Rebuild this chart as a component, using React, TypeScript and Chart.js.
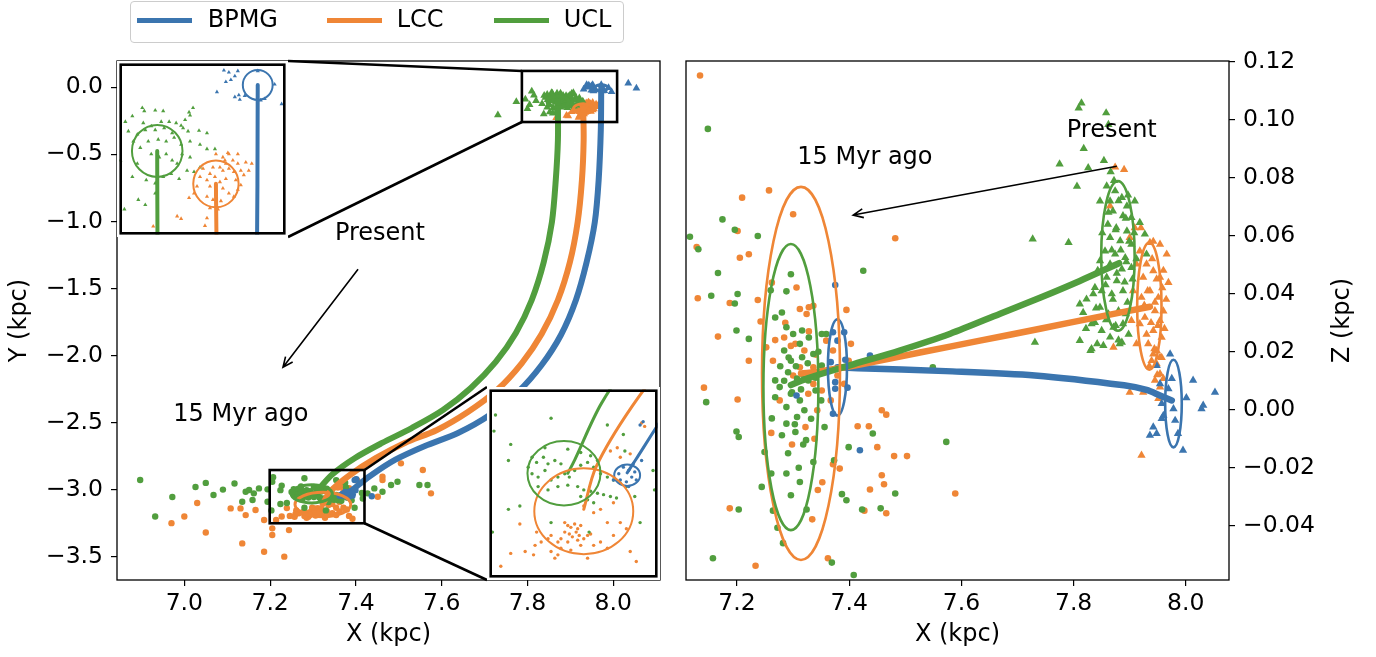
import React, { useEffect, useRef } from "react";
import { Chart, registerables } from "chart.js";

Chart.register(...registerables);

type P = [number, number];
type Ell = [number, number, number, number]; // centre x, centre y, half-width, half-height (data units)

const FONT = "'DejaVu Sans', 'Liberation Sans', Arial, sans-serif";
const groupNames = ["BPMG", "LCC", "UCL"];
const groupColors = ["#3b75af", "#ef8636", "#519e3e"];

// ---------------- axes ----------------
const xyXRange: P = [6.843, 8.109];
const xyYRange: P = [-3.674, 0.196];
const xyXTicks = [7.0, 7.2, 7.4, 7.6, 7.8, 8.0];
const xyYTicks = [0.0, -0.5, -1.0, -1.5, -2.0, -2.5, -3.0, -3.5];
const xzXRange: P = [7.109, 8.077];
const xzZRange: P = [-0.0587, 0.1202];
const xzXTicks = [7.2, 7.4, 7.6, 7.8, 8.0];
const xzZTicks = [-0.04, -0.02, 0.0, 0.02, 0.04, 0.06, 0.08, 0.1, 0.12];

const inset1XRange: P = [7.833, 8.0];
const inset1YRange: P = [-0.24, 0.03];
const inset2XRange: P = [7.199, 7.42];
const inset2YRange: P = [-3.251, -2.854];
const zoomBox1 = [7.787, 8.009, -0.259, 0.122];
const zoomBox2 = [7.199, 7.42, -3.251, -2.854];

// ---------------- X–Y panel: present (triangles) ----------------
const bpmgNowXY: P[] = [
  [7.938, 0.019], [7.943, 0.016], [7.952, 0.018], [7.949, 0.01], [7.945, 0.004], [7.94, 0.001],
  [7.931, -0.015], [7.949, -0.023], [7.953, -0.02], [7.954, -0.027], [7.959, -0.021], [7.975, -0.028],
  [7.979, -0.026], [7.989, -0.003], [7.996, -0.034], [7.972, 0.018], [8.035, 0.03], [8.054, -0.007],
];
const lccNowXY: P[] = [
  [7.93, -0.113], [7.937, -0.118], [7.942, -0.111], [7.947, -0.123], [7.952, -0.128], [7.955, -0.139],
  [7.96, -0.126], [7.966, -0.128], [7.94, -0.128], [7.943, -0.136], [7.948, -0.141], [7.937, -0.139],
  [7.927, -0.134], [7.924, -0.144], [7.917, -0.136], [7.914, -0.149], [7.921, -0.154], [7.929, -0.149],
  [7.934, -0.157], [7.94, -0.152], [7.95, -0.154], [7.955, -0.162], [7.924, -0.164], [7.93, -0.169],
  [7.937, -0.167], [7.943, -0.175], [7.948, -0.18], [7.952, -0.169], [7.911, -0.164], [7.908, -0.175],
  [7.903, -0.182], [7.921, -0.18], [7.927, -0.185], [7.935, -0.187], [7.924, -0.198], [7.932, -0.2],
  [7.891, -0.211], [7.895, -0.215], [7.921, -0.214], [7.919, -0.226], [7.867, -0.227], [7.963, -0.139],
  [7.958, -0.146], [7.952, -0.113], [7.939, -0.123], [7.943, -0.113], [7.934, -0.134],
];
const uclNowXY: P[] = [
  [7.856, -0.04], [7.858, -0.045], [7.869, -0.044], [7.877, -0.045], [7.846, -0.053], [7.839, -0.062],
  [7.857, -0.064], [7.865, -0.069], [7.875, -0.062], [7.883, -0.062], [7.89, -0.064], [7.895, -0.068],
  [7.899, -0.059], [7.904, -0.052], [7.907, -0.04], [7.903, -0.047], [7.897, -0.072], [7.902, -0.077],
  [7.913, -0.076], [7.921, -0.08], [7.842, -0.077], [7.851, -0.082], [7.859, -0.075], [7.869, -0.075],
  [7.878, -0.072], [7.886, -0.08], [7.847, -0.093], [7.854, -0.103], [7.862, -0.093], [7.872, -0.09],
  [7.88, -0.093], [7.888, -0.087], [7.895, -0.098], [7.904, -0.093], [7.914, -0.098], [7.921, -0.105],
  [7.929, -0.105], [7.865, -0.113], [7.873, -0.118], [7.88, -0.113], [7.886, -0.123], [7.891, -0.128],
  [7.896, -0.113], [7.901, -0.139], [7.908, -0.141], [7.914, -0.134], [7.86, -0.154], [7.869, -0.159],
  [7.877, -0.149], [7.885, -0.144], [7.893, -0.152], [7.869, -0.175], [7.852, -0.185], [7.859, -0.193],
  [7.838, -0.2], [7.834, -0.123], [7.851, -0.128], [7.846, -0.149], [7.904, -0.118],
  [7.731, -0.207], [7.774, -0.107], [7.795, -0.09], [7.805, -0.13], [7.815, -0.06], [7.82, -0.1],
  [7.8, -0.16], [7.81, -0.03],
];

// ---------------- X–Y panel: 15 Myr ago (dots) ----------------
const bpmgPastXY: P[] = [
  [7.375, -3.018], [7.382, -3.025], [7.386, -3.039], [7.371, -3.045], [7.379, -3.049], [7.39, -3.028],
  [7.369, -3.032], [7.388, -3.011], [7.392, -3.045], [7.399, -3.004], [7.397, -2.929], [7.401, -2.922],
  [7.382, -3.059], [7.362, -3.045], [7.437, -3.05],
];
const lccPastXY: P[] = [
  [7.298, -3.135], [7.302, -3.141], [7.306, -3.145], [7.311, -3.138], [7.315, -3.148], [7.319, -3.141],
  [7.313, -3.155], [7.304, -3.159], [7.308, -3.165], [7.317, -3.162], [7.298, -3.155], [7.293, -3.169],
  [7.289, -3.176], [7.302, -3.176], [7.315, -3.172], [7.323, -3.169], [7.328, -3.162], [7.332, -3.159],
  [7.28, -3.162], [7.276, -3.169], [7.267, -3.176], [7.261, -3.155], [7.259, -3.183], [7.293, -3.189],
  [7.306, -3.193], [7.319, -3.183], [7.336, -3.183], [7.345, -3.176], [7.354, -3.135], [7.371, -3.135],
  [7.379, -3.148], [7.362, -3.162], [7.239, -3.138], [7.227, -3.2], [7.246, -3.196], [7.257, -3.203],
  [7.285, -3.21], [7.328, -3.21], [7.384, -3.196], [7.392, -3.217], [7.214, -3.227], [7.354, -3.189],
  [7.358, -2.984], [7.367, -2.977], [7.371, -2.997], [7.384, -2.99], [7.399, -2.925], [7.403, -2.932],
  [7.362, -3.093], [7.345, -3.107], [7.336, -3.114], [7.323, -3.1], [7.289, -3.203], [7.28, -3.196],
  [7.108, -3.14], [7.131, -3.14], [7.143, -3.19], [7.166, -3.152], [7.186, -3.227], [7.205, -3.289],
  [7.205, -3.339], [7.244, -3.302], [7.135, -3.401], [7.186, -3.463], [7.233, -3.5], [7.462, -2.904],
  [7.462, -2.929], [7.505, -2.804], [7.556, -2.854], [7.575, -3.028], [7.451, -3.053], [6.97, -3.25],
  [7.03, -3.1], [7.05, -3.32], [7.0, -3.2],
];
const uclPastXY: P[] = [
  [7.207, -2.908], [7.205, -2.942], [7.227, -2.97], [7.224, -3.004], [7.28, -2.915], [7.255, -2.997],
  [7.25, -3.018], [7.261, -3.008], [7.27, -2.997], [7.276, -3.011], [7.285, -3.004], [7.293, -3.011],
  [7.255, -3.032], [7.263, -3.039], [7.272, -3.025], [7.28, -3.045], [7.289, -3.039], [7.298, -3.032],
  [7.304, -3.039], [7.311, -3.025], [7.319, -3.014], [7.328, -3.008], [7.336, -3.018], [7.345, -3.032],
  [7.354, -3.039], [7.362, -3.045], [7.371, -3.052], [7.379, -3.059], [7.263, -3.059], [7.276, -3.066],
  [7.289, -3.059], [7.302, -3.056], [7.315, -3.059], [7.323, -3.066], [7.332, -3.069], [7.341, -3.073],
  [7.349, -3.076], [7.358, -3.08], [7.366, -3.083], [7.319, -3.08], [7.328, -3.087], [7.336, -3.093],
  [7.302, -2.98], [7.319, -2.987], [7.332, -2.994], [7.341, -3.004], [7.272, -2.977], [7.239, -3.1],
  [7.224, -3.107], [7.28, -3.135], [7.397, -3.135], [7.39, -3.08], [7.414, -3.025], [7.377, -2.984],
  [7.354, -2.929], [7.375, -2.949], [7.416, -3.066], [7.203, -3.155], [7.33, -3.155],
  [7.117, -2.954], [7.143, -3.016], [7.151, -3.003], [7.162, -3.028], [7.174, -2.991], [7.135, -3.09],
  [7.159, -3.078], [7.194, -2.998], [7.194, -3.09], [7.427, -3.028], [7.443, -2.991], [7.462, -3.016],
  [7.482, -2.966], [7.497, -2.941], [7.548, -2.966], [7.567, -2.966], [6.897, -2.928], [6.932, -3.2],
  [6.972, -3.055], [7.026, -2.98], [7.068, -3.04], [7.05, -2.95], [7.09, -3.0],
];

// ---------------- X–Y panel: mean orbits ----------------
const bpmgTrackXY: P[] = [
  [7.972, -0.004], [7.971, -0.318], [7.966, -0.691], [7.957, -1.005], [7.938, -1.303], [7.913, -1.586],
  [7.878, -1.847], [7.833, -2.071], [7.778, -2.272], [7.712, -2.444], [7.638, -2.578], [7.561, -2.675],
  [7.491, -2.779], [7.433, -2.899], [7.391, -3.003], [7.38, -3.03],
];
const lccTrackXY: P[] = [
  [7.93, -0.16], [7.931, -0.393], [7.927, -0.691], [7.917, -1.005], [7.899, -1.303], [7.871, -1.586],
  [7.833, -1.84], [7.787, -2.056], [7.729, -2.257], [7.661, -2.421], [7.589, -2.555], [7.514, -2.652],
  [7.447, -2.764], [7.386, -2.891], [7.339, -3.018], [7.323, -3.107],
];
const uclTrackXY: P[] = [
  [7.871, -0.108], [7.871, -0.393], [7.866, -0.691], [7.857, -1.005], [7.838, -1.303], [7.81, -1.586],
  [7.773, -1.832], [7.726, -2.048], [7.668, -2.242], [7.603, -2.406], [7.53, -2.541], [7.461, -2.652],
  [7.398, -2.764], [7.346, -2.884], [7.311, -3.003], [7.302, -3.031],
];

// ---------------- X–Y panel: dispersion ellipses ----------------
const bpmgEllXY: Ell[] = [[7.972, -0.004, 0.015, 0.0236], [7.38, -3.035, 0.017, 0.0226]];
const lccEllXY: Ell[] = [[7.93, -0.16, 0.0228, 0.0369], [7.323, -3.111, 0.065, 0.0905]];
const uclEllXY: Ell[] = [[7.871, -0.108, 0.0254, 0.041], [7.297, -3.031, 0.048, 0.068]];

// ---------------- X–Z panel: present (triangles) ----------------
const bpmgNowXZ: P[] = [
  [7.972, 0.0192], [7.948, 0.0152], [7.975, 0.0107], [7.954, 0.0089], [8.013, 0.0101], [7.969, 0.0072],
  [8.001, 0.0041], [8.052, 0.006], [7.957, 0.0021], [7.978, 0.0003], [8.031, 0.0015], [8.028, 0.0003],
  [7.96, -0.002], [7.981, -0.0037], [7.942, -0.006], [7.957, -0.0031], [7.936, -0.0088], [7.948, -0.0082],
  [7.986, -0.0082], [7.995, -0.014],
];
const lccNowXZ: P[] = [
  [7.874, 0.0836], [7.89, 0.0828], [7.865, 0.0702], [7.909, 0.0627], [7.92, 0.0627], [7.936, 0.0576],
  [7.954, 0.057], [7.966, 0.0536], [7.969, 0.0438], [7.93, 0.0502], [7.942, 0.0479], [7.954, 0.0456],
  [7.924, 0.0456], [7.936, 0.041], [7.951, 0.0387], [7.921, 0.0387], [7.945, 0.0341], [7.954, 0.0307],
  [7.927, 0.0318], [7.918, 0.0296], [7.942, 0.0273], [7.957, 0.0249], [7.933, 0.0227], [7.948, 0.0204],
  [7.912, 0.0227], [7.871, 0.0215], [7.903, 0.0307], [7.906, 0.041], [7.912, 0.0502], [7.918, 0.0547],
  [7.9, 0.0593], [7.939, 0.0169], [7.954, 0.0181], [7.942, 0.0192], [7.948, 0.0158], [7.954, 0.0124],
  [7.945, 0.0101], [7.96, 0.0107], [7.954, 0.0078], [7.951, 0.0038], [7.9, 0.006], [7.924, 0.006],
  [7.921, -0.0157], [7.94, 0.052], [7.948, 0.045], [7.958, 0.042], [7.932, 0.041], [7.945, 0.037],
  [7.96, 0.034], [7.938, 0.03], [7.95, 0.029], [7.93, 0.026], [7.944, 0.021], [7.957, 0.018],
  [7.935, 0.015], [7.949, 0.012], [7.962, 0.028], [7.965, 0.038], [7.926, 0.036], [7.942, 0.058],
  [7.96, 0.048],
];
const uclNowXZ: P[] = [
  [7.809, 0.104], [7.814, 0.1057], [7.858, 0.1023], [7.862, 0.0983], [7.818, 0.09], [7.775, 0.0847],
  [7.854, 0.0859], [7.826, 0.0834], [7.806, 0.077], [7.727, 0.0588], [7.791, 0.0576], [7.859, 0.0771],
  [7.874, 0.0754], [7.886, 0.0731], [7.865, 0.0719], [7.847, 0.0719], [7.895, 0.0702], [7.909, 0.0719],
  [7.87, 0.0685], [7.888, 0.0668], [7.903, 0.0662], [7.918, 0.0645], [7.861, 0.0639], [7.876, 0.0627],
  [7.895, 0.0616], [7.927, 0.0605], [7.865, 0.0593], [7.883, 0.0582], [7.903, 0.057], [7.856, 0.0547],
  [7.874, 0.0536], [7.892, 0.0524], [7.93, 0.0536], [7.847, 0.0513], [7.865, 0.0502], [7.886, 0.0485],
  [7.903, 0.049], [7.859, 0.0456], [7.877, 0.0444], [7.838, 0.0421], [7.823, 0.0381], [7.811, 0.0364],
  [7.835, 0.0399], [7.85, 0.041], [7.868, 0.0399], [7.888, 0.041], [7.847, 0.0353], [7.862, 0.033],
  [7.88, 0.0341], [7.817, 0.0335], [7.832, 0.0296], [7.85, 0.0273], [7.871, 0.0284], [7.888, 0.0296],
  [7.811, 0.0238], [7.832, 0.021], [7.853, 0.0221], [7.886, 0.0232], [7.731, 0.0232], [7.83, 0.0204],
  [7.842, 0.0227], [7.882, 0.0227], [7.872, 0.079], [7.88, 0.072], [7.893, 0.066], [7.875, 0.062],
  [7.899, 0.058], [7.884, 0.055], [7.868, 0.055], [7.894, 0.051], [7.877, 0.047], [7.891, 0.044],
  [7.857, 0.043], [7.87, 0.038], [7.896, 0.037], [7.858, 0.031], [7.875, 0.029], [7.893, 0.033],
  [7.84, 0.035], [7.865, 0.025], [7.88, 0.024], [7.898, 0.026], [7.905, 0.045], [7.912, 0.052],
  [7.862, 0.068], [7.851, 0.061], [7.843, 0.048], [7.838, 0.03], [7.822, 0.028], [7.908, 0.061],
  [7.897, 0.074], [7.866, 0.082],
];

// ---------------- X–Z panel: 15 Myr ago (dots) ----------------
const bpmgPastXZ: P[] = [
  [7.371, 0.0267], [7.391, 0.0267], [7.379, 0.0238], [7.367, 0.0164], [7.393, 0.0172], [7.375, 0.0095],
  [7.397, 0.0076], [7.371, -0.0014], [7.419, -0.014], [7.437, 0.0187], [7.306, 0.0049], [7.375, 0.0072],
  [7.375, 0.043],
];
const lccPastXZ: P[] = [
  [7.134, 0.1152], [7.257, 0.0756], [7.209, 0.0731], [7.201, 0.0616], [7.128, 0.0561], [7.221, 0.0536],
  [7.205, 0.0524], [7.3, 0.0674], [7.482, 0.0591], [7.13, 0.0384], [7.187, 0.0368], [7.237, 0.0378],
  [7.306, 0.0421], [7.328, 0.0353], [7.262, 0.0438], [7.166, 0.0252], [7.395, 0.0344], [7.221, 0.0169],
  [7.141, 0.0076], [7.201, 0.0035], [7.261, -0.008], [7.344, -0.0277], [7.187, -0.034], [7.233, -0.0538],
  [7.362, -0.0512], [7.334, -0.0378], [7.371, -0.0188], [7.383, -0.0203], [7.415, -0.0057], [7.435, -0.0057],
  [7.45, -0.0129], [7.48, -0.016], [7.503, -0.016], [7.462, -0.0257], [7.458, -0.0226], [7.437, -0.0275],
  [7.466, -0.0357], [7.427, -0.0348], [7.589, -0.0289], [7.458, -0.0002], [7.466, -0.0017], [7.403, 0.0227],
  [7.242, 0.0304], [7.252, 0.0215], [7.264, 0.0169], [7.284, 0.0249], [7.304, 0.0227], [7.32, 0.0204],
  [7.336, 0.0146], [7.312, 0.0146], [7.3, 0.0118], [7.336, 0.0089], [7.351, 0.0066], [7.367, 0.0032],
  [7.379, 0.0118], [7.391, 0.0089], [7.399, 0.0169], [7.371, 0.0204], [7.359, 0.0238], [7.276, 0.0032],
  [7.327, 0.0055], [7.343, -0.0002], [7.312, 0.0347], [7.324, 0.033], [7.336, 0.0358], [7.286, 0.03],
  [7.296, 0.022], [7.328, 0.027], [7.34, 0.019], [7.355, 0.013], [7.322, -0.006], [7.338, -0.01],
  [7.298, -0.012], [7.352, -0.025], [7.268, 0.024],
];
const uclPastXZ: P[] = [
  [7.148, 0.0968], [7.174, 0.0656], [7.196, 0.062], [7.116, 0.0596], [7.131, 0.0553], [7.237, 0.0599],
  [7.425, 0.0479], [7.166, 0.0471], [7.154, 0.0393], [7.201, 0.0399], [7.196, 0.0366], [7.296, 0.0467],
  [7.288, 0.0408], [7.26, 0.0412], [7.359, 0.0261], [7.199, 0.0273], [7.145, 0.0026], [7.199, -0.0075],
  [7.203, -0.0094], [7.249, -0.0146], [7.261, -0.022], [7.288, -0.022], [7.244, -0.0266], [7.312, -0.0249],
  [7.296, -0.0295], [7.203, -0.0344], [7.264, -0.0348], [7.324, -0.0344], [7.272, -0.0407], [7.282, -0.046],
  [7.157, -0.0512], [7.369, -0.0527], [7.408, -0.057], [7.387, -0.0291], [7.395, -0.0312], [7.373, -0.0174],
  [7.399, -0.0129], [7.442, -0.0082], [7.482, -0.0289], [7.456, -0.034], [7.423, -0.0344], [7.573, -0.0111],
  [7.549, 0.0146], [7.221, 0.0244], [7.268, 0.0318], [7.28, 0.0335], [7.288, 0.0284], [7.3, 0.0261],
  [7.316, 0.0273], [7.328, 0.0249], [7.312, 0.0227], [7.284, 0.0204], [7.296, 0.0169], [7.316, 0.0181],
  [7.336, 0.0192], [7.351, 0.0152], [7.291, 0.0129], [7.307, 0.0107], [7.327, 0.0101], [7.34, 0.0066],
  [7.296, 0.0055], [7.312, 0.0032], [7.288, 0.0009], [7.32, -0.0002], [7.332, -0.0031], [7.307, -0.0025],
  [7.288, -0.0048], [7.304, -0.0077], [7.323, -0.0105], [7.28, -0.0088], [7.356, -0.006], [7.35, 0.0032],
  [7.268, 0.0043], [7.276, 0.0078], [7.268, 0.0101], [7.351, 0.0261], [7.292, 0.018], [7.305, 0.015],
  [7.318, 0.012], [7.284, 0.01], [7.298, 0.006], [7.314, 0.007], [7.326, 0.016], [7.34, 0.011],
  [7.277, 0.015], [7.303, -0.005], [7.318, -0.012], [7.291, -0.015], [7.336, -0.018], [7.31, -0.02],
  [7.262, -0.003], [7.345, 0.02],
];

// ---------------- X–Z panel: mean orbits ----------------
const bpmgTrackXZ: P[] = [
  [7.975, 0.0032], [7.954, 0.0049], [7.93, 0.0068], [7.89, 0.0084], [7.731, 0.0118], [7.572, 0.0133],
  [7.415, 0.0143], [7.379, 0.0146],
];
const lccTrackXZ: P[] = [
  [7.936, 0.0355], [7.847, 0.0321], [7.74, 0.0279], [7.633, 0.0238], [7.526, 0.0197], [7.419, 0.0156],
  [7.348, 0.0132], [7.314, 0.0125],
];
const uclTrackXZ: P[] = [
  [7.881, 0.0505], [7.811, 0.0444], [7.74, 0.0386], [7.669, 0.0331], [7.58, 0.0262], [7.49, 0.0204],
  [7.401, 0.0153], [7.33, 0.0111], [7.296, 0.0085],
];

// ---------------- X–Z panel: dispersion ellipses ----------------
const bpmgEllXZ: Ell[] = [[7.978, 0.0021, 0.0148, 0.0151], [7.379, 0.0146, 0.017, 0.0166]];
const lccEllXZ: Ell[] = [[7.935, 0.0357, 0.0217, 0.0219], [7.314, 0.0125, 0.0695, 0.0643]];
const uclEllXZ: Ell[] = [[7.879, 0.053, 0.0298, 0.0258], [7.296, 0.0078, 0.049, 0.0493]];

// ---------------- annotations ----------------
const xyLabels: { at: P; text: string }[] = [
  { at: [7.456, -1.094], text: "Present" },
  { at: [7.132, -2.444], text: "15 Myr ago" },
];
const xyArrow: { from: P; to: P } = { from: [7.405, -1.357], to: [7.23, -2.088] };
const xzLabels: { at: P; text: string }[] = [
  { at: [7.868, 0.096], text: "Present" },
  { at: [7.428, 0.0867], text: "15 Myr ago" },
];
const xzArrow: { from: P; to: P } = { from: [7.877, 0.0839], to: [7.407, 0.0671] };

// ---------------- layout (pixels) ----------------
const W = 1376;
const H = 657;
const PLOT_TOP = 61;
const PLOT_BOTTOM = 580;
const INSET1 = { left: 117, top: 61, width: 171, height: 176 };
const INSET2 = { left: 487, top: 387, width: 173, height: 193 };

const fmt = (v: number, d: number) => {
  const s = Math.abs(v) < 1e-9 ? (0).toFixed(d) : v.toFixed(d);
  return s.replace("-", "\u2212");
};

const font = (size: number) => ({ family: FONT, size });

function axis(horiz: boolean, range: P, ticks: number[], dec: number, title: string | null, size: number, position?: string) {
  return {
    type: "linear",
    position: position ?? (horiz ? "bottom" : "left"),
    min: range[0],
    max: range[1],
    afterBuildTicks: (s: any) => {
      s.ticks = ticks.map((v) => ({ value: v }));
    },
    afterFit: (s: any) => {
      if (horiz) s.height = size;
      else s.width = size;
    },
    ticks: {
      callback: (v: any) => fmt(Number(v), dec),
      font: font(23.5),
      color: "#000",
      padding: horiz ? 4 : 8,
      autoSkip: false,
      maxRotation: 0,
      minRotation: 0,
    },
    grid: { drawOnChartArea: false, drawTicks: true, tickLength: 6, color: "#000", lineWidth: 1.2 },
    border: { display: false },
    title: title
      ? {
          display: true,
          text: title,
          font: font(24),
          color: "#000",
          padding: horiz ? { top: 0, bottom: 8 } : { top: 5, bottom: 0 },
        }
      : { display: false },
  };
}

const pts = (d: P[]) => d.map(([x, y]) => ({ x, y }));

function buildDatasets(tracks: P[][], now: P[][], past: P[][], st: { tri: number; dot: number; line: number }) {
  const ds: any[] = [];
  const lineOrder = [2, 1, 0];
  tracks.forEach((t, i) =>
    ds.push({
      data: pts(t),
      showLine: true,
      borderColor: groupColors[i],
      borderWidth: st.line,
      pointRadius: 0,
      pointHoverRadius: 0,
      tension: 0.3,
      fill: false,
      borderCapStyle: "round",
      borderJoinStyle: "round",
      order: lineOrder[i],
    })
  );
  const ptOrder = [10, 12, 11];
  now.forEach((d, i) =>
    ds.push({
      data: pts(d),
      showLine: false,
      pointStyle: "triangle",
      pointRadius: st.tri,
      pointHoverRadius: st.tri,
      pointBackgroundColor: groupColors[i],
      backgroundColor: groupColors[i],
      pointBorderWidth: 0,
      borderWidth: 0,
      order: ptOrder[i],
    })
  );
  past.forEach((d, i) =>
    ds.push({
      data: pts(d),
      showLine: false,
      pointStyle: "circle",
      pointRadius: st.dot,
      pointHoverRadius: st.dot,
      pointBackgroundColor: groupColors[i],
      backgroundColor: groupColors[i],
      pointBorderWidth: 0,
      borderWidth: 0,
      order: ptOrder[i] + 10,
    })
  );
  return ds;
}

interface OverlaySpec {
  frameWidth: number;
  frameInside?: boolean;
  ellipses: { items: Ell[]; color: string; width: number }[];
  labels?: { at: P; text: string }[];
  arrows?: { from: P; to: P }[];
  boxes?: { box: number[]; links: { corner: [number, number]; to: [number, number] }[] }[];
  rotatedTitle?: { text: string; dx: number };
}

function overlayPlugin(o: OverlaySpec) {
  return {
    id: "overlay",
    afterDatasetsDraw(chart: any) {
      const { ctx, chartArea: ca, scales } = chart;
      const xs = scales.x;
      const ys = scales.y;
      ctx.save();
      ctx.beginPath();
      ctx.rect(ca.left, ca.top, ca.right - ca.left, ca.bottom - ca.top);
      ctx.clip();
      for (const g of o.ellipses) {
        ctx.strokeStyle = g.color;
        ctx.lineWidth = g.width;
        for (const [cx, cy, rx, ry] of g.items) {
          const px = xs.getPixelForValue(cx);
          const py = ys.getPixelForValue(cy);
          const prx = Math.abs(xs.getPixelForValue(cx + rx) - px);
          const pry = Math.abs(ys.getPixelForValue(cy + ry) - py);
          ctx.beginPath();
          ctx.ellipse(px, py, prx, pry, 0, 0, Math.PI * 2);
          ctx.stroke();
        }
      }
      ctx.fillStyle = "#000";
      ctx.font = `24px ${FONT}`;
      ctx.textAlign = "center";
      ctx.textBaseline = "middle";
      for (const l of o.labels ?? []) {
        ctx.fillText(l.text, xs.getPixelForValue(l.at[0]), ys.getPixelForValue(l.at[1]));
      }
      ctx.strokeStyle = "#000";
      ctx.lineWidth = 1.6;
      for (const a of o.arrows ?? []) {
        const x1 = xs.getPixelForValue(a.from[0]);
        const y1 = ys.getPixelForValue(a.from[1]);
        const x2 = xs.getPixelForValue(a.to[0]);
        const y2 = ys.getPixelForValue(a.to[1]);
        const ang = Math.atan2(y2 - y1, x2 - x1);
        const hl = 11;
        const ha = 0.42;
        ctx.beginPath();
        ctx.moveTo(x1, y1);
        ctx.lineTo(x2, y2);
        ctx.moveTo(x2 - hl * Math.cos(ang - ha), y2 - hl * Math.sin(ang - ha));
        ctx.lineTo(x2, y2);
        ctx.lineTo(x2 - hl * Math.cos(ang + ha), y2 - hl * Math.sin(ang + ha));
        ctx.stroke();
      }
      ctx.restore();

      ctx.save();
      ctx.strokeStyle = "#000";
      ctx.lineWidth = 2.6;
      for (const b of o.boxes ?? []) {
        const [x0, x1, y0, y1] = b.box;
        const L = xs.getPixelForValue(x0);
        const R = xs.getPixelForValue(x1);
        const T = ys.getPixelForValue(y1);
        const B = ys.getPixelForValue(y0);
        ctx.strokeRect(L, T, R - L, B - T);
        for (const k of b.links) {
          ctx.beginPath();
          ctx.moveTo(xs.getPixelForValue(k.corner[0]), ys.getPixelForValue(k.corner[1]));
          ctx.lineTo(k.to[0], k.to[1]);
          ctx.stroke();
        }
      }
      ctx.restore();

      ctx.save();
      ctx.strokeStyle = "#000";
      ctx.lineWidth = o.frameWidth;
      const h = o.frameInside ? o.frameWidth / 2 : 0;
      ctx.strokeRect(ca.left + h, ca.top + h, ca.right - ca.left - 2 * h, ca.bottom - ca.top - 2 * h);
      ctx.restore();

      if (o.rotatedTitle) {
        ctx.save();
        ctx.fillStyle = "#000";
        ctx.font = `24px ${FONT}`;
        ctx.textAlign = "center";
        ctx.textBaseline = "middle";
        ctx.translate(ca.right + o.rotatedTitle.dx, (ca.top + ca.bottom) / 2);
        ctx.rotate(-Math.PI / 2);
        ctx.fillText(o.rotatedTitle.text, 0, 0);
        ctx.restore();
      }
    },
  };
}

const baseOptions = (padding: any, scales: any) => ({
  animation: false,
  responsive: false,
  devicePixelRatio: 1,
  events: [],
  layout: { padding },
  plugins: { legend: { display: false }, tooltip: { enabled: false } },
  scales,
});

function leftConfig(): any {
  return {
    type: "scatter",
    data: {
      datasets: buildDatasets(
        [bpmgTrackXY, lccTrackXY, uclTrackXY],
        [bpmgNowXY, lccNowXY, uclNowXY],
        [bpmgPastXY, lccPastXY, uclPastXY],
        { tri: 4.5, dot: 3.2, line: 6 }
      ),
    },
    options: baseOptions(
      { left: 0, right: 20, top: PLOT_TOP, bottom: 0 },
      {
        x: axis(true, xyXRange, xyXTicks, 1, "X (kpc)", H - PLOT_BOTTOM),
        y: axis(false, xyYRange, xyYTicks, 1, "Y (kpc)", 117),
      }
    ),
    plugins: [
      overlayPlugin({
        frameWidth: 1.3,
        ellipses: [
          { items: bpmgEllXY, color: groupColors[0], width: 3 },
          { items: lccEllXY, color: groupColors[1], width: 3 },
          { items: uclEllXY, color: groupColors[2], width: 3 },
        ],
        labels: xyLabels,
        arrows: [xyArrow],
        boxes: [
          {
            box: zoomBox1,
            links: [
              { corner: [zoomBox1[0], zoomBox1[3]], to: [INSET1.left + INSET1.width, INSET1.top] },
              { corner: [zoomBox1[0], zoomBox1[2]], to: [INSET1.left + INSET1.width, INSET1.top + INSET1.height] },
            ],
          },
          {
            box: zoomBox2,
            links: [
              { corner: [zoomBox2[1], zoomBox2[3]], to: [INSET2.left, INSET2.top] },
              { corner: [zoomBox2[1], zoomBox2[2]], to: [INSET2.left, INSET2.top + INSET2.height] },
            ],
          },
        ],
      }),
    ],
  };
}

function insetConfig(xr: P, yr: P, st: { tri: number; dot: number; line: number }, ellW: number): any {
  return {
    type: "scatter",
    data: {
      datasets: buildDatasets(
        [bpmgTrackXY, lccTrackXY, uclTrackXY],
        [bpmgNowXY, lccNowXY, uclNowXY],
        [bpmgPastXY, lccPastXY, uclPastXY],
        st
      ),
    },
    options: baseOptions(0, {
      x: { type: "linear", display: false, min: xr[0], max: xr[1] },
      y: { type: "linear", display: false, min: yr[0], max: yr[1] },
    }),
    plugins: [
      overlayPlugin({
        frameWidth: 2.6,
        frameInside: true,
        ellipses: [
          { items: bpmgEllXY, color: groupColors[0], width: ellW },
          { items: lccEllXY, color: groupColors[1], width: ellW },
          { items: uclEllXY, color: groupColors[2], width: ellW },
        ],
      }),
    ],
  };
}

function rightConfig(): any {
  return {
    type: "scatter",
    data: {
      datasets: buildDatasets(
        [bpmgTrackXZ, lccTrackXZ, uclTrackXZ],
        [bpmgNowXZ, lccNowXZ, uclNowXZ],
        [bpmgPastXZ, lccPastXZ, uclPastXZ],
        { tri: 4.8, dot: 3.3, line: 6.5 }
      ),
    },
    options: baseOptions(
      { left: 6, right: 0, top: PLOT_TOP, bottom: 0 },
      {
        x: axis(true, xzXRange, xzXTicks, 1, "X (kpc)", H - PLOT_BOTTOM),
        y: axis(false, xzZRange, xzZTicks, 2, null, 147, "right"),
      }
    ),
    plugins: [
      overlayPlugin({
        frameWidth: 1.3,
        ellipses: [
          { items: bpmgEllXZ, color: groupColors[0], width: 2.6 },
          { items: lccEllXZ, color: groupColors[1], width: 2.6 },
          { items: uclEllXZ, color: groupColors[2], width: 2.6 },
        ],
        labels: xzLabels,
        arrows: [xzArrow],
        rotatedTitle: { text: "Z (kpc)", dx: 114 },
      }),
    ],
  };
}

const legendLineX = [137, 327, 494];
const legendTextX = [208, 397, 564];

export default function App() {
  const leftRef = useRef<HTMLCanvasElement>(null);
  const rightRef = useRef<HTMLCanvasElement>(null);
  const in1Ref = useRef<HTMLCanvasElement>(null);
  const in2Ref = useRef<HTMLCanvasElement>(null);

  useEffect(() => {
    const charts = [
      new Chart(leftRef.current!, leftConfig()),
      new Chart(rightRef.current!, rightConfig()),
      new Chart(in1Ref.current!, insetConfig(inset1XRange, inset1YRange, { tri: 2.4, dot: 1.6, line: 4 }, 2)),
      new Chart(in2Ref.current!, insetConfig(inset2XRange, inset2YRange, { tri: 2.4, dot: 1.7, line: 3 }, 2)),
    ];
    return () => charts.forEach((c) => c.destroy());
  }, []);

  const abs = (l: number, t: number, w: number, h: number): React.CSSProperties => ({
    position: "absolute",
    left: l,
    top: t,
    width: w,
    height: h,
  });

  return (
    <div
      style={{
        position: "fixed",
        left: 0,
        top: 0,
        width: W,
        height: H,
        background: "#fff",
        overflow: "hidden",
        fontFamily: FONT,
      }}
    >
      <canvas ref={leftRef} width={680} height={H} style={abs(0, 0, 680, H)} />
      <canvas ref={rightRef} width={696} height={H} style={abs(680, 0, 696, H)} />
      <canvas
        ref={in1Ref}
        width={INSET1.width}
        height={INSET1.height}
        style={{ ...abs(INSET1.left, INSET1.top, INSET1.width, INSET1.height), background: "#fff" }}
      />
      <canvas
        ref={in2Ref}
        width={INSET2.width}
        height={INSET2.height}
        style={{ ...abs(INSET2.left, INSET2.top, INSET2.width, INSET2.height), background: "#fff" }}
      />
      <div
        style={{
          ...abs(130, 1, 494, 42),
          boxSizing: "border-box",
          border: "1.3px solid #cccccc",
          borderRadius: 4,
          background: "rgba(255,255,255,0.85)",
        }}
      >
        {groupNames.map((g, i) => (
          <React.Fragment key={g}>
            <div style={{ ...abs(legendLineX[i] - 131.3, 15.5, 55, 5), background: groupColors[i] }} />
            <span
              style={{
                position: "absolute",
                left: legendTextX[i] - 131.3,
                top: 2.5,
                fontSize: 24,
                lineHeight: "28px",
                whiteSpace: "nowrap",
                color: "#000",
              }}
            >
              {g}
            </span>
          </React.Fragment>
        ))}
      </div>
    </div>
  );
}
